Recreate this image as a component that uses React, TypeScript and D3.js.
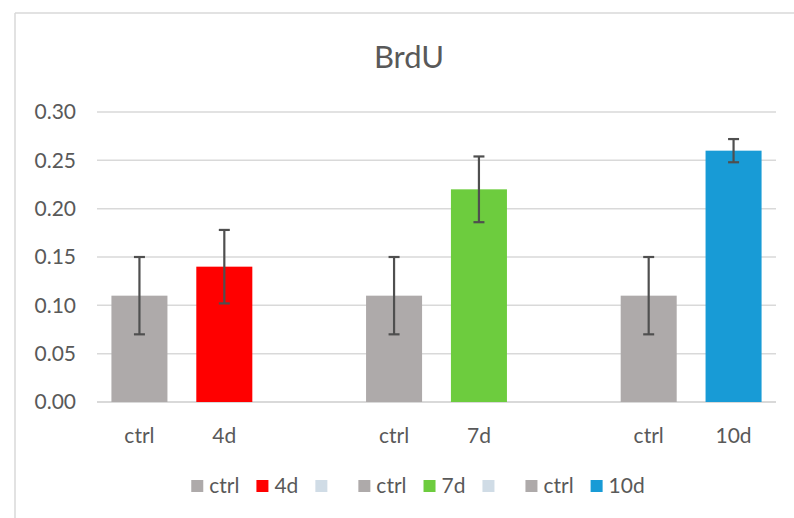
import React from 'react';
import * as d3 from 'd3';

const width = 794;
const height = 518;
const margin = { top: 112, right: 18, bottom: 116, left: 97 };
const font = 'Lato, "Liberation Sans", sans-serif';
const textColor = '#595959';
const gridColor = '#d9d9d9';

// one bar per category, blank slots separate the three groups
const categories = ['ctrl', '4d', '', 'ctrl', '7d', '', 'ctrl', '10d'];
const values = [0.11, 0.14, null, 0.11, 0.22, null, 0.11, 0.26];
const errors = [0.04, 0.038, null, 0.04, 0.034, null, 0.04, 0.012];
const colors = ['#aeaaaa', '#ff0000', '#d0dce6', '#aeaaaa', '#6dcc3e', '#d0dce6', '#aeaaaa', '#189bd6'];
const yTicks = [0, 0.05, 0.1, 0.15, 0.2, 0.25, 0.3];

const measure = (txt: string, size: number) => {
	const ctx = document.createElement('canvas').getContext('2d');
	if (!ctx) return txt.length * size * 0.5;
	ctx.font = `${size}px Lato`;
	return ctx.measureText(txt).width;
};

export default function App() {
	const x = d3
		.scaleBand<number>()
		.domain(d3.range(categories.length))
		.range([margin.left, width - margin.right])
		.paddingInner(0.34)
		.paddingOuter(0.17);
	const y = d3.scaleLinear().domain([0, 0.3]).range([height - margin.bottom, margin.top]);

	// legend: square, gap, label; laid out left to right and centred
	const sq = 12;
	const legendItems = categories.map((c, i) => {
		const w = c ? measure(c, 21) : 8;
		return { label: c, color: colors[i], w: sq + 6 + w + 17 };
	});
	const legendTotal = d3.sum(legendItems, (d) => d.w) - 17;
	let lx = 418 - legendTotal / 2;
	const legendY = 486;

	return (
		<svg width={width} height={height} style={{ position: 'absolute', left: 0, top: 0, background: '#fff' }}>
			<rect x={0} y={0} width={width} height={height} fill="#fff" />
			{/* chart area frame */}
			<line x1={15} x2={width} y1={13} y2={13} stroke={gridColor} strokeWidth={1.5} />
			<line x1={15} x2={15} y1={13} y2={height} stroke={gridColor} strokeWidth={1.5} />

			<text x={409} y={68} textAnchor="middle" fontFamily={font} fontSize={31} fill={textColor}>
				BrdU
			</text>

			{yTicks.map((t) => (
				<g key={t}>
					<line
						x1={margin.left}
						x2={width - margin.right}
						y1={y(t)}
						y2={y(t)}
						stroke={gridColor}
						strokeWidth={t === 0 ? 2 : 1.5}
					/>
					<text
						x={76}
						y={y(t)}
						dy="0.35em"
						textAnchor="end"
						fontFamily={font}
						fontSize={21}
						fill={textColor}
					>
						{d3.format('.2f')(t)}
					</text>
				</g>
			))}

			{categories.map((c, i) => {
				const v = values[i];
				const e = errors[i];
				const cx = (x(i) as number) + x.bandwidth() / 2;
				return (
					<g key={i}>
						{v != null && (
							<rect
								x={x(i)}
								y={y(v)}
								width={x.bandwidth()}
								height={y(0) - y(v)}
								fill={colors[i]}
							/>
						)}
						{v != null && e != null && (
							<g stroke="#4f4f4f" strokeWidth={2.2}>
								<line x1={cx} x2={cx} y1={y(v + e)} y2={y(v - e)} />
								<line x1={cx - 5.5} x2={cx + 5.5} y1={y(v + e)} y2={y(v + e)} />
								<line x1={cx - 5.5} x2={cx + 5.5} y1={y(v - e)} y2={y(v - e)} />
							</g>
						)}
						<text
							x={cx}
							y={436}
							dy="0.35em"
							textAnchor="middle"
							fontFamily={font}
							fontSize={21}
							fill={textColor}
						>
							{c}
						</text>
					</g>
				);
			})}

			{legendItems.map((d, i) => {
				const x0 = lx;
				lx += d.w;
				return (
					<g key={i}>
						<rect x={x0} y={legendY - sq / 2} width={sq} height={sq} fill={d.color} />
						<text
							x={x0 + sq + 6}
							y={legendY}
							dy="0.35em"
							fontFamily={font}
							fontSize={21}
							fill={textColor}
						>
							{d.label}
						</text>
					</g>
				);
			})}
		</svg>
	);
}
